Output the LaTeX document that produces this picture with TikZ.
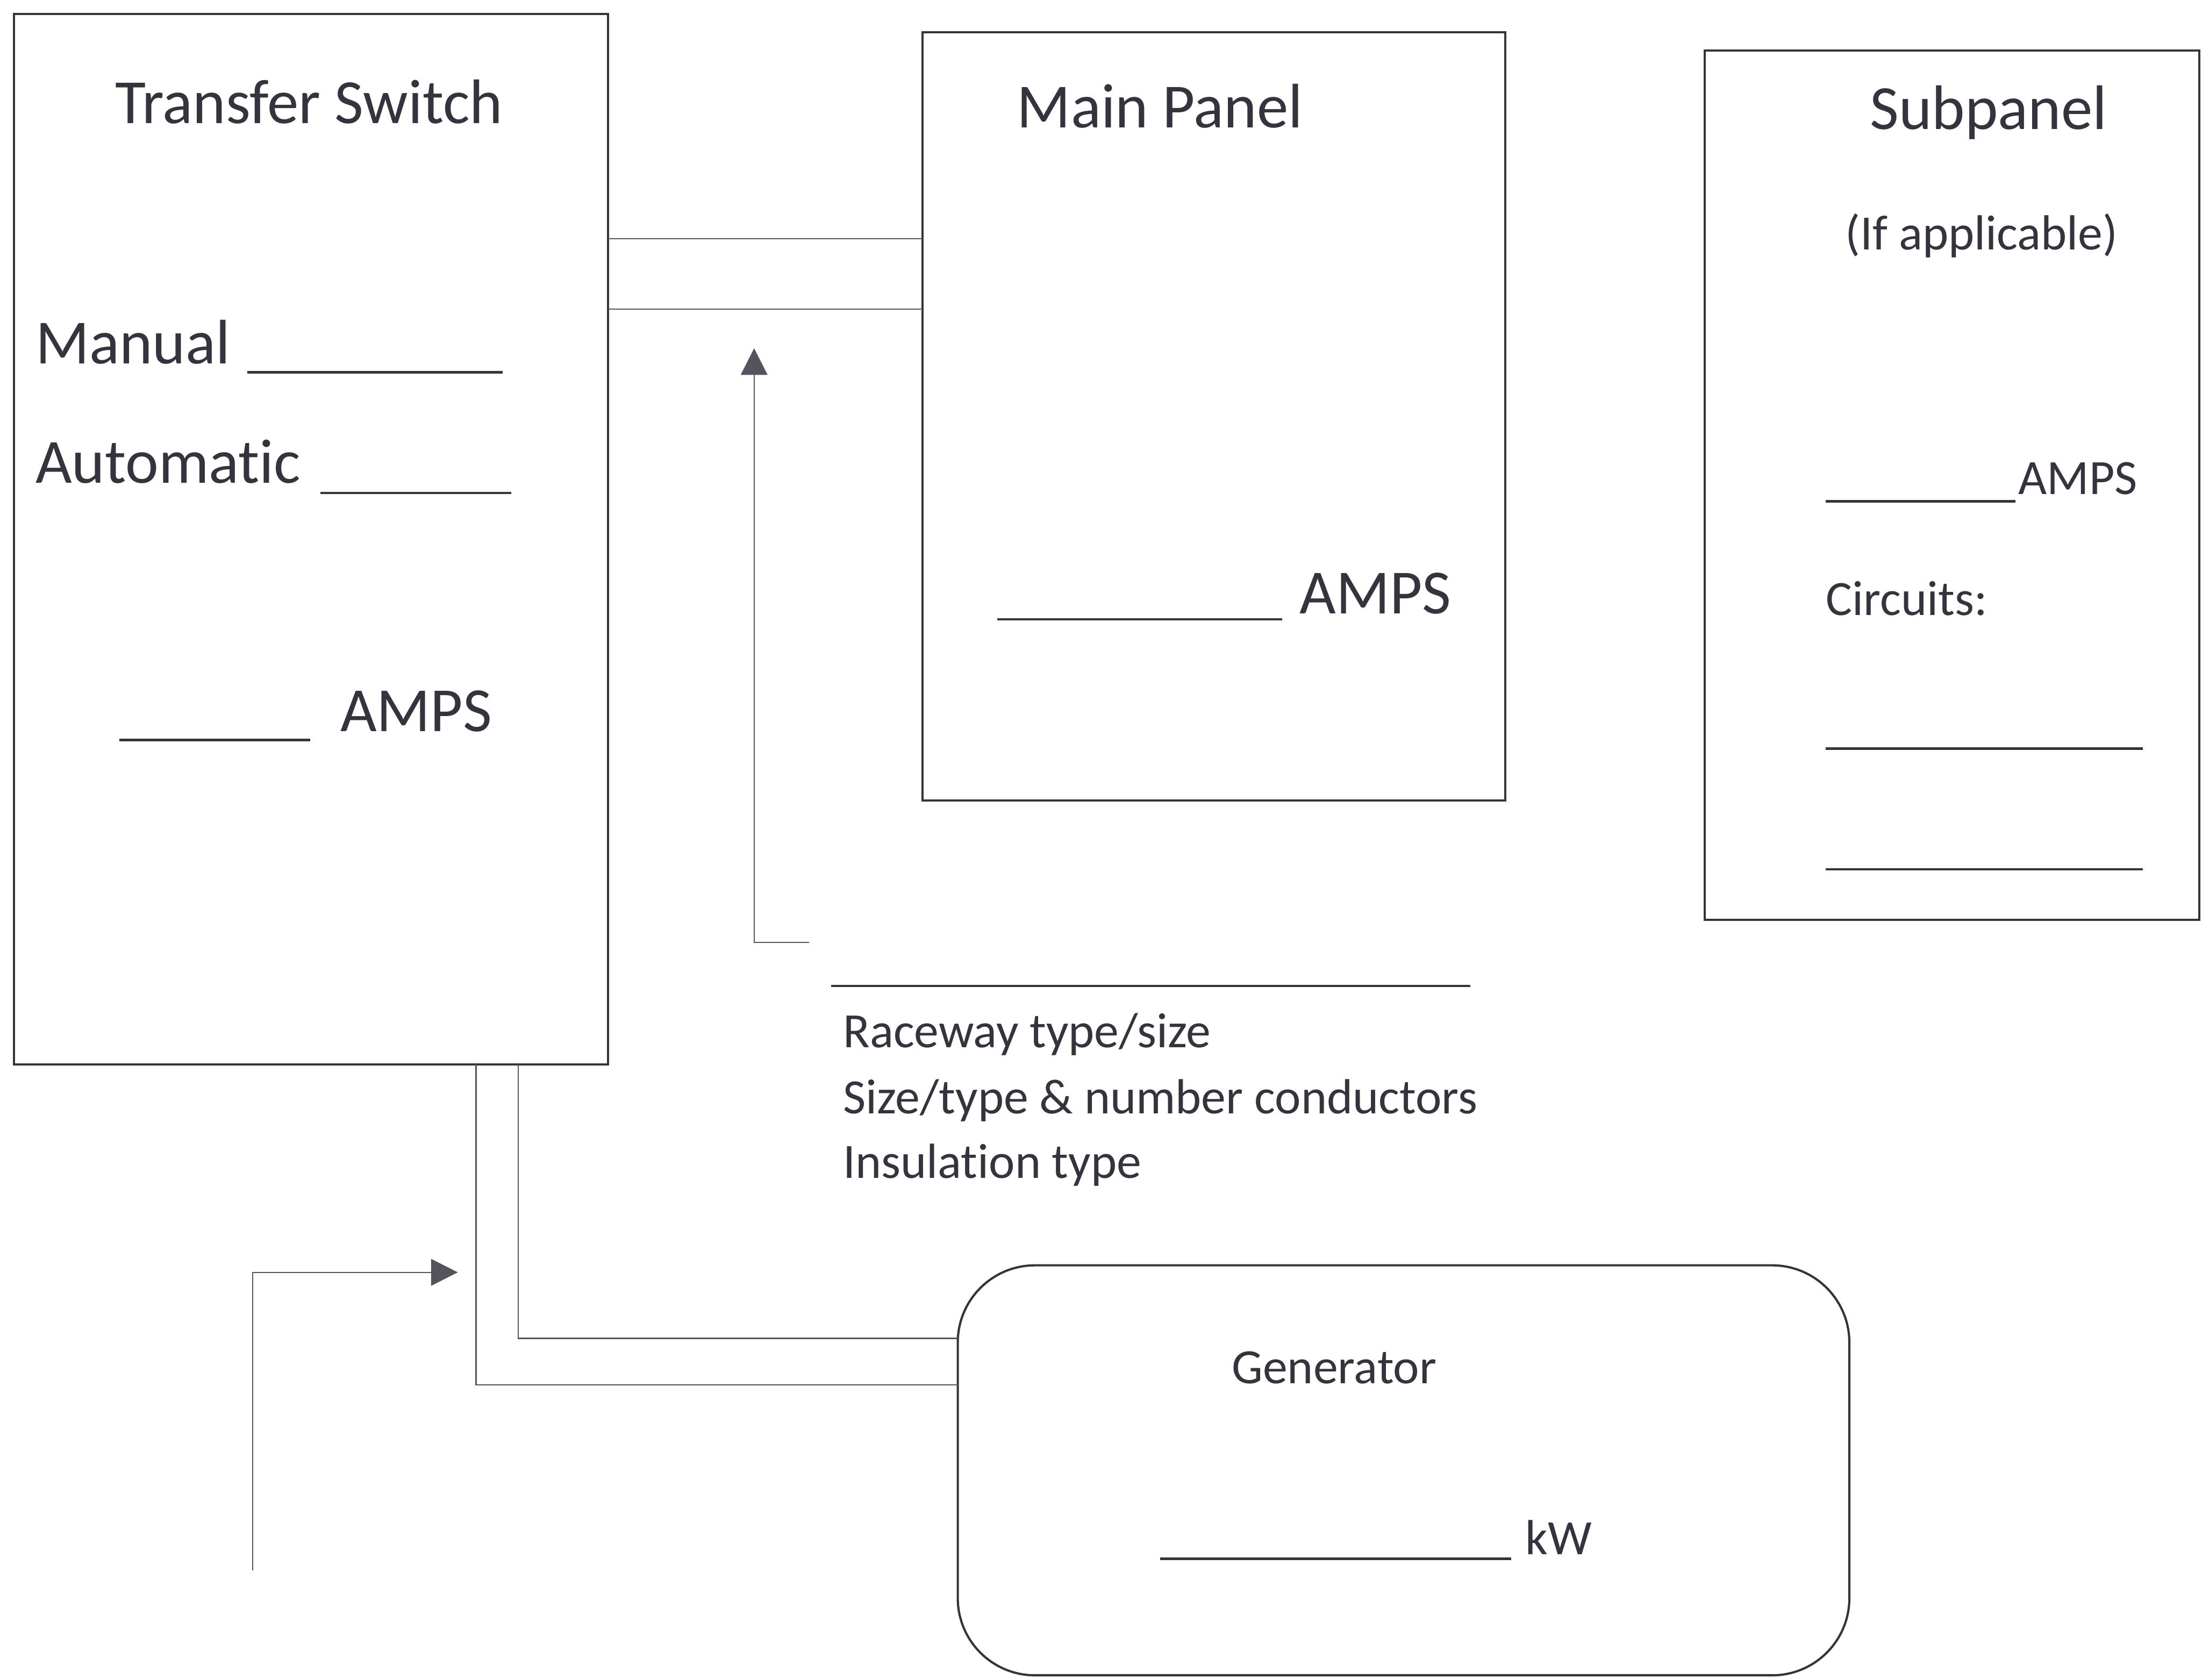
\documentclass[tikz,border=0pt]{standalone}
\usepackage{fontspec}
\setmainfont{Carlito}[Ligatures=NoCommon]
\usepackage{tikz}
\usetikzlibrary{arrows.meta,positioning}
\definecolor{ink}{HTML}{34343E}
\definecolor{wire}{HTML}{54545E}
\tikzset{
	box/.style={draw=ink, line width=0.9pt, inner sep=0pt, outer sep=0pt, anchor=north west},
	big/.style={inner sep=0pt, anchor=base west, text=ink, font=\fontsize{25.5}{30}\selectfont},
	small/.style={inner sep=0pt, anchor=base west, text=ink, font=\fontsize{20}{24}\selectfont},
	blank/.style={draw=ink, line width=1pt},
	wire/.style={draw=wire, line width=0.5pt},
	pointer/.style={wire, -{Triangle[length=0.38cm,width=0.38cm]}}
}

\begin{document}
\begin{tikzpicture}[x=0.02cm, y=-0.02cm]
				\useasboundingbox (0,0) rectangle (1568,1196);
				
				% boxes
				\node[box, minimum width=8.46cm, minimum height=14.96cm] (ts) at (10,10) {};
				\node[box, minimum width=8.3cm, minimum height=10.94cm] (mp) at (657,23) {};
				\node[box, minimum width=7.04cm, minimum height=12.38cm] (sp) at (1214,36) {};
				\node[box, rounded corners=1.1cm, minimum width=12.7cm, minimum height=5.84cm] (gen) at (682,901) {};
				
				% transfer switch
				\node[big, anchor=base] (tstitle) at (220,88) {Transfer Switch};
				\node[big] (manual) at (25,259) {Manual};
				\draw[blank] (176,265) -- (358,265);
				\node[big] (auto) at (25,344) {Automatic};
				\draw[blank] (228,351) -- (364,351);
				\draw[blank] (85,527) -- (221,527);
				\node[big] (tsamps) at (242,521) {AMPS};
				
				% main panel
				\node[big, anchor=base] (mptitle) at (826,91) {Main Panel};
				\draw[blank] (710,441) -- (913,441);
				\node[big] (mpamps) at (925,437) {AMPS};
				
				% subpanel
				\node[big, anchor=base] (sptitle) at (1416,92) {Subpanel};
				\node[small, anchor=base] (spnote) at (1411,178) {(If applicable)};
				\draw[blank] (1300,357) -- (1435,357);
				\node[small] (spamps) at (1437,352) {AMPS};
				\node[small] (circ) at (1300,438) {Circuits:};
				\draw[blank] (1300,533) -- (1526,533);
				\draw[blank] (1300,619) -- (1526,619);
				
				% raceway
				\draw[blank] (592,702) -- (1047,702);
				\node[small] (rw1) at (600,746) {Raceway type/size};
				\node[small] (rw2) at (600,793) {Size/type \& number conductors};
				\node[small] (rw3) at (600,839) {Insulation type};
				
				% generator
				\node[small, anchor=base] (gentitle) at (950,985) {Generator};
				\draw[blank] (826,1110) -- (1076,1110);
				\node[small] (kw) at (1086,1107) {kW};
				
				% wires
				\draw[wire] (ts.east |- 0,170) -- (mp.west |- 0,170);
				\draw[wire] (ts.east |- 0,220) -- (mp.west |- 0,220);
				\draw[wire] (ts.south -| 369,0) |- (gen.west |- 0,953);
				\draw[wire] (ts.south -| 339,0) |- (gen.west |- 0,986);
				
				% pointers
				\coordinate (rwfoot) at (576,671);
				\coordinate (rwtip) at (537,248);
				\draw[pointer] (rwfoot) -| (rwtip);
				\coordinate (feed) at (180,1118);
				\coordinate (feedtip) at (326,906);
				\draw[pointer] (feed) |- (feedtip);
				
\end{tikzpicture}
\end{document}
